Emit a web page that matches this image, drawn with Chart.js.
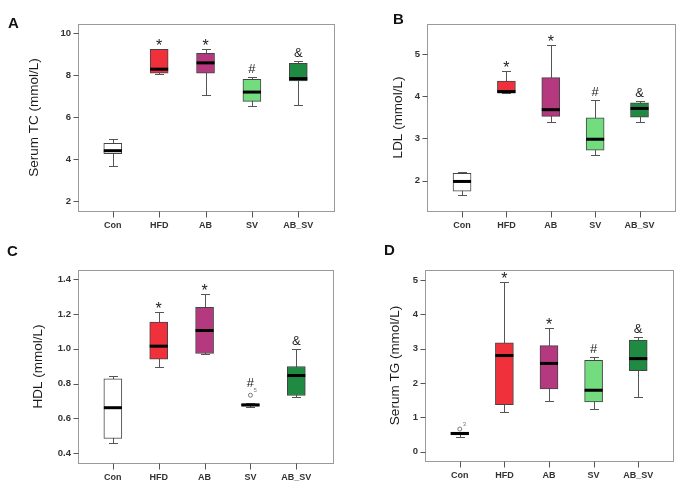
<!DOCTYPE html>
<html>
<head>
<meta charset="utf-8">
<script src="https://cdn.jsdelivr.net/npm/chart.js@4"></script>
<style>
  html, body { margin: 0; padding: 0; background: #fff; }
  #wrap { position: relative; width: 689px; height: 492px; overflow: hidden; }
  canvas { position: absolute; }
  .tag { position: absolute; font: bold 15px "Liberation Sans", Arial, sans-serif; line-height: 16px; color: #111; }
</style>
</head>
<body>
<div id="wrap">
  <canvas id="panelA" width="345" height="245" style="left:0;top:0"></canvas>
  <canvas id="panelB" width="344" height="245" style="left:345px;top:0"></canvas>
  <canvas id="panelC" width="345" height="247" style="left:0;top:245px"></canvas>
  <canvas id="panelD" width="344" height="247" style="left:345px;top:245px"></canvas>
  <div class="tag" style="left:8px;top:15px">A</div>
  <div class="tag" style="left:393px;top:11px">B</div>
  <div class="tag" style="left:7px;top:243px">C</div>
  <div class="tag" style="left:384px;top:242px">D</div>
</div>
<script>
  // groups on the x axis
  const groups = ["Con", "HFD", "AB", "SV", "AB_SV"];
  const boxColors = ["#ffffff", "#f0303a", "#b5397f", "#72dc7e", "#1f8a42"];

  // [lower whisker, q1, median, q3, upper whisker]
  const tcStats = [
    [3.70, 4.27, 4.41, 4.76, 4.95],
    [8.08, 8.10, 8.29, 9.24, 9.24],
    [7.05, 8.10, 8.59, 9.05, 9.24],
    [6.55, 6.76, 7.20, 7.81, 7.90],
    [6.57, 7.73, 7.84, 8.57, 8.68],
  ];
  const tcMarks = ["", "*", "*", "#", "&"];
  const tcTicks = [2, 4, 6, 8, 10];

  const ldlStats = [
    [1.67, 1.75, 1.98, 2.17, 2.21],
    [4.07, 4.07, 4.11, 4.36, 4.59],
    [3.40, 3.52, 3.68, 4.44, 5.22],
    [2.60, 2.72, 2.98, 3.49, 3.91],
    [3.38, 3.50, 3.71, 3.84, 3.89],
  ];
  const ldlMarks = ["", "*", "*", "#", "&"];
  const ldlTicks = [2, 3, 4, 5];

  const hdlStats = [
    [0.459, 0.484, 0.661, 0.827, 0.844],
    [0.894, 0.940, 1.015, 1.153, 1.212],
    [0.969, 0.973, 1.105, 1.239, 1.314],
    [0.664, 0.670, 0.677, 0.684, 0.686],
    [0.720, 0.731, 0.846, 0.898, 1.000],
  ];
  const hdlMarks = ["", "*", "*", "#", "&"];
  const hdlTicks = [0.4, 0.6, 0.8, 1.0, 1.2, 1.4];
  const hdlOutlierGroup = [3];
  const hdlOutlierValue = [0.733];
  const hdlOutlierLabel = ["5"];

  const tgStats = [
    [0.43, 0.49, 0.53, 0.57, 0.58],
    [1.17, 1.37, 2.80, 3.17, 4.95],
    [1.49, 1.83, 2.57, 3.09, 3.60],
    [1.23, 1.45, 1.79, 2.66, 2.77],
    [1.58, 2.36, 2.71, 3.25, 3.35],
  ];
  const tgMarks = ["", "*", "*", "#", "&"];
  const tgTicks = [0, 1, 2, 3, 4, 5];
  const tgOutlierGroup = [0];
  const tgOutlierValue = [0.66];
  const tgOutlierLabel = ["3"];

  Chart.defaults.font.family = '"Liberation Sans", Arial, sans-serif';
  Chart.defaults.color = "#333";

  // whiskers, medians, significance marks, tick marks and the frame
  const boxLines = {
    id: "boxLines",
    beforeDatasetsDraw(chart, args, opts) {
      const { ctx, scales: { x, y } } = chart;
      ctx.save();
      ctx.strokeStyle = "#555";
      ctx.lineWidth = 1;
      opts.stats.forEach((s, i) => {
        const cx = Math.round(x.getPixelForValue(i)) + 0.5;
        const lo = Math.round(y.getPixelForValue(s[0])) + 0.5;
        const hi = Math.round(y.getPixelForValue(s[4])) + 0.5;
        ctx.beginPath();
        ctx.moveTo(cx, lo); ctx.lineTo(cx, hi);
        ctx.moveTo(cx - 4.5, lo); ctx.lineTo(cx + 4.5, lo);
        ctx.moveTo(cx - 4.5, hi); ctx.lineTo(cx + 4.5, hi);
        ctx.stroke();
      });
      ctx.restore();
    },
    afterDatasetsDraw(chart, args, opts) {
      const { ctx, scales: { x, y } } = chart;
      const bars = chart.getDatasetMeta(0).data;
      ctx.save();
      ctx.strokeStyle = "#000";
      ctx.lineWidth = 3;
      opts.stats.forEach((s, i) => {
        const b = bars[i];
        const my = y.getPixelForValue(s[2]);
        ctx.beginPath();
        ctx.moveTo(b.x - b.width / 2, my);
        ctx.lineTo(b.x + b.width / 2, my);
        ctx.stroke();
      });
      // outlier labels
      ctx.fillStyle = "#777";
      ctx.font = '6px "Liberation Sans", Arial, sans-serif';
      ctx.textAlign = "left";
      ctx.textBaseline = "alphabetic";
      (opts.outGroup || []).forEach((g, k) => {
        const px = x.getPixelForValue(g), py = y.getPixelForValue(opts.outValue[k]);
        ctx.fillText(opts.outLabel[k], px + 3, py - 3);
      });
      // significance marks
      ctx.fillStyle = "#222";
      ctx.textAlign = "center";
      opts.marks.forEach((m, i) => {
        if (!m) return;
        let top = y.getPixelForValue(opts.stats[i][4]);
        (opts.outGroup || []).forEach((g, k) => {
          if (g === i) top = Math.min(top, y.getPixelForValue(opts.outValue[k]) - 4);
        });
        const cx = x.getPixelForValue(i);
        if (m === "*") {
          ctx.font = '16px "Liberation Sans", Arial, sans-serif';
          ctx.fillText(m, cx, top + 2);
        } else {
          ctx.font = '13px "Liberation Sans", Arial, sans-serif';
          ctx.fillText(m, cx, top - 4);
        }
      });
      ctx.restore();
    },
    afterDraw(chart) {
      const { ctx, chartArea: a, scales: { x, y } } = chart;
      const L = Math.round(a.left) + 0.5, T = Math.round(a.top) + 0.5;
      const R = Math.round(a.right) + 0.5, B = Math.round(a.bottom) + 0.5;
      ctx.save();
      ctx.strokeStyle = "#9a9a9a";
      ctx.lineWidth = 1;
      ctx.strokeRect(L, T, R - L, B - T);
      // tick marks outside the frame
      ctx.strokeStyle = "#555";
      ctx.beginPath();
      x.ticks.forEach((t) => {
        const px = Math.round(x.getPixelForValue(t.value)) + 0.5;
        ctx.moveTo(px, B); ctx.lineTo(px, B + 6);
      });
      y.ticks.forEach((t) => {
        const py = Math.round(y.getPixelForValue(t.value)) + 0.5;
        ctx.moveTo(L - 5, py); ctx.lineTo(L, py);
      });
      ctx.stroke();
      ctx.restore();
    },
  };

  function makePanel(id, cfg) {
    const datasets = [{
      type: "bar",
      data: cfg.stats.map((s, i) => ({ x: i, y: [s[1], s[3]] })),
      backgroundColor: boxColors,
      borderColor: "#444",
      borderWidth: 1,
      borderSkipped: false,
      barThickness: 18,
      order: 2,
    }];
    if (cfg.outGroup) {
      datasets.push({
        type: "scatter",
        data: cfg.outGroup.map((g, k) => ({ x: g, y: cfg.outValue[k] })),
        pointRadius: 2,
        pointBorderWidth: 1,
        pointBackgroundColor: "#fff",
        pointBorderColor: "#777",
        order: 1,
      });
    }
    return new Chart(document.getElementById(id), {
      type: "bar",
      data: { datasets },
      plugins: [boxLines],
      options: {
        responsive: false,
        animation: false,
        layout: { padding: { top: cfg.pad[0], right: cfg.pad[1], left: 0, bottom: 0 } },
        plugins: {
          legend: { display: false },
          tooltip: { enabled: false },
          boxLines: {
            stats: cfg.stats, marks: cfg.marks,
            outGroup: cfg.outGroup, outValue: cfg.outValue, outLabel: cfg.outLabel,
          },
        },
        scales: {
          x: {
            type: "linear",
            offset: false,
            min: cfg.xr[0], max: cfg.xr[1],
            afterBuildTicks: (s) => { s.ticks = groups.map((g, i) => ({ value: i })); },
            afterFit: (s) => { s.height = cfg.xh; },
            grid: { display: false, offset: false, drawTicks: true, tickLength: 6 },
            border: { display: false },
            ticks: {
              padding: 3, maxRotation: 0, autoSkip: false, color: "#333",
              font: { size: 9, weight: "bold" },
              callback: (v) => groups[v],
            },
          },
          y: {
            type: "linear",
            min: cfg.yr[0], max: cfg.yr[1],
            afterBuildTicks: (s) => { s.ticks = cfg.ticks.map((v) => ({ value: v })); },
            afterFit: (s) => { s.width = cfg.yw; },
            grid: { display: false, drawTicks: true, tickLength: 5 },
            border: { display: false },
            ticks: {
              padding: 2, color: "#333",
              font: { size: 9.5, weight: "bold" },
              callback: (v) => v.toFixed(cfg.dec),
            },
            title: {
              display: true, text: cfg.title, color: "#1a1a1a",
              font: { size: 13.5 },
              padding: { top: cfg.tp, bottom: 0 },
            },
          },
        },
      },
    });
  }

  makePanel("panelA", {
    stats: tcStats, marks: tcMarks, ticks: tcTicks, dec: 0,
    title: "Serum TC (mmol/L)", yr: [1.54, 10.44], xr: [-0.75, 4.77],
    pad: [24, 11], yw: 78, xh: 34, tp: 26,
  });
  makePanel("panelB", {
    stats: ldlStats, marks: ldlMarks, ticks: ldlTicks, dec: 0,
    title: "LDL (mmol/L)", yr: [1.28, 5.71], xr: [-0.79, 4.8],
    pad: [24, 14], yw: 82, xh: 34, tp: 45,
  });
  makePanel("panelC", {
    stats: hdlStats, marks: hdlMarks, ticks: hdlTicks, dec: 1,
    title: "HDL (mmol/L)", yr: [0.343, 1.453], xr: [-0.76, 4.8],
    pad: [25, 12], yw: 78, xh: 29, tp: 30,
    outGroup: hdlOutlierGroup, outValue: hdlOutlierValue, outLabel: hdlOutlierLabel,
  });
  makePanel("panelD", {
    stats: tgStats, marks: tgMarks, ticks: tgTicks, dec: 0,
    title: "Serum TG (mmol/L)", yr: [-0.27, 5.29], xr: [-0.78, 4.78],
    pad: [25, 16], yw: 80, xh: 31, tp: 42,
    outGroup: tgOutlierGroup, outValue: tgOutlierValue, outLabel: tgOutlierLabel,
  });
</script>
</body>
</html>
